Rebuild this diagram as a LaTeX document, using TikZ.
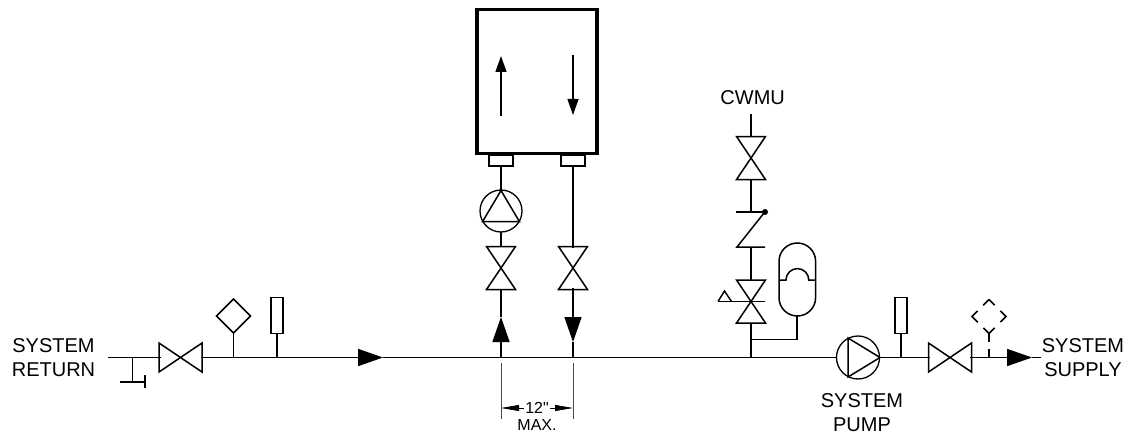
\documentclass[tikz,border=0pt]{standalone}
\usepackage{fontspec}
\setmainfont{Liberation Sans}
\newfontfamily\dimfont{Liberation Sans}
\usetikzlibrary{arrows.meta}
\tikzset{
  pipe/.style={line width=1.5pt, line join=miter},
  flowtip/.style={-{Triangle[length=25pt,width=17pt]}},
  thinpipe/.style={line width=1.3pt},
  dimline/.style={line width=0.8pt, black!70},
  label/.style={font=\fontsize{20}{24}\selectfont, align=center, inner sep=0pt},
  smalllabel/.style={font=\dimfont\fontsize{16}{17}\selectfont, align=center, inner sep=1pt},
}
\newcommand{\HV}[1]{\draw [pipe] (#1) +(-21.5,-14.5) -- +(21.5,14.5) -- +(21.5,-14.5) -- +(-21.5,14.5) -- cycle;}
\newcommand{\VV}[1]{\draw [pipe] (#1) +(-14.5,-21.5) -- +(14.5,-21.5) -- +(-14.5,21.5) -- +(14.5,21.5) -- cycle;}
\newcommand{\GG}[1]{\draw [pipe] (#1) +(-6,-36) rectangle +(6,0);}
\begin{document}
\begin{tikzpicture}[x=1pt, y=-1pt]
\useasboundingbox (0,0) rectangle (1136,444);
% main line
\coordinate (Lstart) at (108,357.5);
\coordinate (Drain) at (132.5,357.5);
\coordinate (Valve1) at (180.5,357.5);
\coordinate (Sensor1) at (233.5,357.5);
\coordinate (Gauge1) at (277,357.5);
\coordinate (Tip1) at (383,357.5);
\coordinate (Ret) at (501,357.5);
\coordinate (Sup) at (573,357.5);
\coordinate (Fill) at (751,357.5);
\coordinate (Pump) at (858,357.5);
\coordinate (Gauge2) at (901,357.5);
\coordinate (Valve2) at (950,357.5);
\coordinate (Sensor2) at (989,357.5);
\coordinate (Tip2) at (1032,357.5);
\coordinate (Lend) at (1041,357.5);
\draw [pipe, line width=1.8pt, flowtip] (Lstart) -- (Tip1);
\draw [pipe, line width=1.8pt] (Tip1) -- (Pump);
\draw [pipe, line width=1.8pt, flowtip] (Pump) -- (Tip2);
\draw [pipe, line width=1.8pt] (Tip2) -- (Lend);
\fill [white] (Valve1) +(-20,-1.5) rectangle +(20,1.5);
\fill [white] (Valve2) +(-20,-1.5) rectangle +(20,1.5);
\fill [white] (Pump) circle (21.5);
% drain
\coordinate (Drain1) at (132.5,382);
\coordinate (Drain2) at (120,382);
\coordinate (Drain3) at (145,382);
\draw [pipe] (Drain) -- (Drain1);
\draw [pipe] (Drain2) -- (Drain3);
\draw [pipe] (Drain3) +(0,-7) -- +(0,6);
\HV{Valve1}
\HV{Valve2}
% sensor and gauges
\coordinate (Sensor1top) at (233.5,333);
\draw [pipe] (Sensor1) -- (Sensor1top);
\draw [pipe] (Sensor1top) -- ++(17,-17) -- ++(-17,-17) -- ++(-17,17) -- cycle;
\coordinate (Gauge1bot) at (277,333.5);
\draw [pipe] (Gauge1) -- (Gauge1bot);
\GG{Gauge1bot}
\coordinate (Gauge2bot) at (901,333.5);
\draw [pipe] (Gauge2) -- (Gauge2bot);
\GG{Gauge2bot}
\coordinate (Sensor2top) at (989,333);
\draw [pipe, dash pattern=on 9pt off 7pt] (Sensor2top) -- (Sensor2);
\draw [pipe, dash pattern=on 16pt off 8pt, dash phase=8pt] (989,299.5) -- (1006,316.5) -- (989,333.5) -- (972,316.5) -- cycle;
% boiler
\draw [line width=3.6pt, line join=miter] (477,9.5) rectangle (597,153.5);
\draw [pipe] (489,155) rectangle (513,166);
\draw [pipe] (561,155) rectangle (585,166);
\coordinate (In0) at (501,116);
\coordinate (In1) at (501,56);
\coordinate (Out0) at (573,55);
\coordinate (Out1) at (573,115);
\draw [thinpipe, -{Triangle[length=16pt,width=11pt]}] (In0) -- (In1);
\draw [thinpipe, -{Triangle[length=16pt,width=11pt]}] (Out0) -- (Out1);
% risers
\coordinate (RetV) at (501,268);
\coordinate (SupV) at (573,268);
\coordinate (CircPump) at (501,211);
\coordinate (RetTip) at (501,317);
\coordinate (SupTip) at (573,342);
\draw [pipe, flowtip] (Ret) -- (RetTip);
\draw [pipe] (RetTip) -- (501,290);
\draw [pipe] (501,246.5) -- (501,232);
\draw [pipe] (501,190) -- (501,166);
\draw [pipe, flowtip] (573,166) -- (SupTip);
\draw [pipe] (SupTip) -- (Sup);
\fill [white] (RetV) +(-1.5,-20) rectangle +(1.5,20);
\fill [white] (SupV) +(-1.5,-20) rectangle +(1.5,20);
\VV{RetV}
\VV{SupV}
\draw [thinpipe] (CircPump) circle (21);
\draw [pipe] (501,190.5) -- (519.5,221.7) -- (482.5,221.7) -- cycle;
% pump
\draw [thinpipe] (Pump) circle (21.5);
\draw [pipe] (880,357.5) -- (848,338) -- (848,377) -- cycle;
% fill line
\coordinate (FillV1) at (751,158);
\coordinate (FillV2) at (751,301.5);
\coordinate (Check1) at (751,212);
\coordinate (Check2) at (751,247);
\draw [pipe] (751,114) -- (751,136.5);
\VV{FillV1}
\draw [pipe] (751,179.5) -- (Check1);
\draw [pipe] (736,212) -- (765,212);
\fill (765,212) circle (3);
\draw [pipe] (764,213) -- (737,247) -- (765,247);
\draw [pipe] (Check2) -- (751,280);
\VV{FillV2}
\draw [pipe] (718,301.5) -- (765,301.5);
\draw [pipe] (718,301.5) -- (724.5,291) -- (731.5,301.5);
\draw [pipe] (751,323) -- (Fill);
% expansion tank
\coordinate (Tank) at (797,316);
\coordinate (Tee) at (751,339.7);
\draw [pipe] (Tee) -- (797,339.7) -- (Tank);
\draw [pipe] (779,261.3) arc (180:360:18.3) -- (815.6,297.7) arc (0:180:18.3) -- cycle;
\draw [pipe] (779,280) -- (786,280) arc (180:360:11.4) -- (815.6,280);
% dimension
\coordinate (DimL) at (501,408);
\coordinate (DimR) at (573,408);
\draw [dimline] (501,363) -- (501,419);
\draw [dimline] (573,363) -- (573,419);
\node [smalllabel] (Twelve) at (537,408) {12"};
\node [smalllabel] (Max) at (537,425) {MAX.};
\draw [dimline, black, -{Triangle[length=18pt,width=6pt]}] (Twelve) -- (DimL);
\draw [dimline, black, -{Triangle[length=18pt,width=6pt]}] (Twelve) -- (DimR);
% labels
\node [label] (Return) at (53.5,357.5) {SYSTEM\\RETURN};
\node [label] (Supply) at (1083,357.5) {SYSTEM\\SUPPLY};
\node [label] (PumpName) at (862,413) {SYSTEM\\PUMP};
\node [label] (Cwmu) at (752.7,98) {CWMU};
\end{tikzpicture}
\end{document}
